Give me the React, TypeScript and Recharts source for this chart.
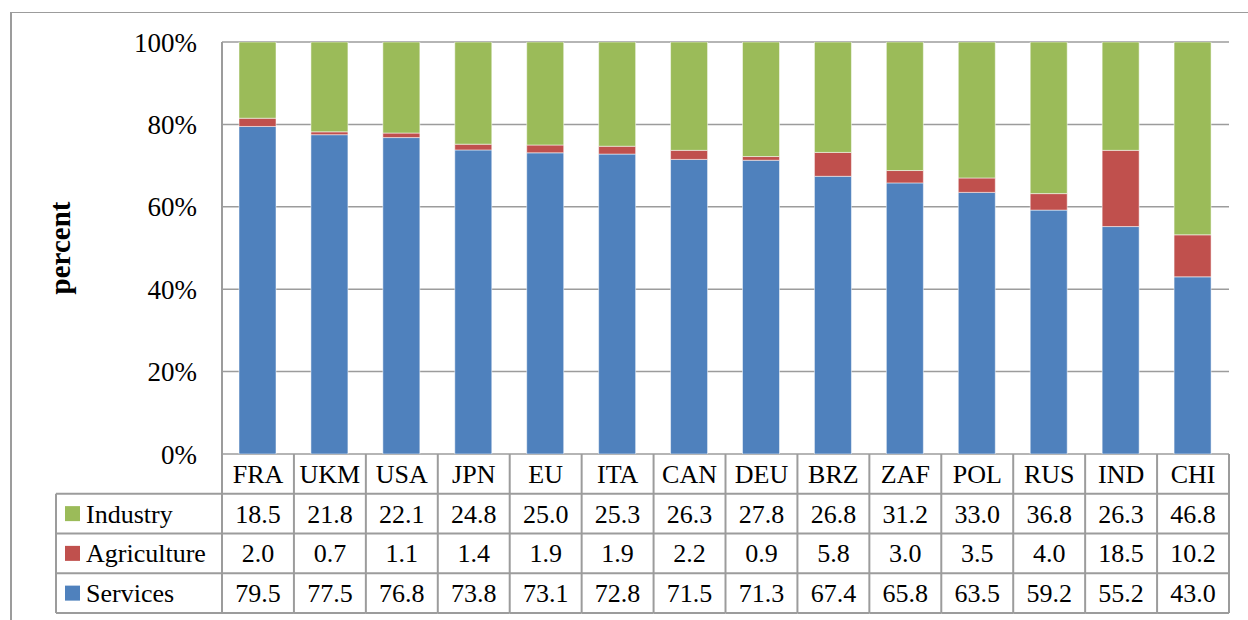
import { BarChart, Bar, XAxis, YAxis, CartesianGrid } from 'recharts'

const categories = ['FRA', 'UKM', 'USA', 'JPN', 'EU', 'ITA', 'CAN', 'DEU', 'BRZ', 'ZAF', 'POL', 'RUS', 'IND', 'CHI']
const industry = [18.5, 21.8, 22.1, 24.8, 25.0, 25.3, 26.3, 27.8, 26.8, 31.2, 33.0, 36.8, 26.3, 46.8]
const agriculture = [2.0, 0.7, 1.1, 1.4, 1.9, 1.9, 2.2, 0.9, 5.8, 3.0, 3.5, 4.0, 18.5, 10.2]
const services = [79.5, 77.5, 76.8, 73.8, 73.1, 72.8, 71.5, 71.3, 67.4, 65.8, 63.5, 59.2, 55.2, 43.0]
const yTicks = [0, 20, 40, 60, 80, 100]

// table rows, top to bottom (stack order is the reverse)
const rows = [
  { key: 'industry', name: 'Industry', color: '#9BBB59', values: industry },
  { key: 'agriculture', name: 'Agriculture', color: '#C0504D', values: agriculture },
  { key: 'services', name: 'Services', color: '#4F81BD', values: services },
]

const data = categories.map((country, i) => ({
  country,
  services: services[i],
  agriculture: agriculture[i],
  industry: industry[i],
}))

const W = 1248
const H = 620
const PLOT_LEFT = 222
const PLOT_RIGHT = 1229
const PLOT_TOP = 42
const PLOT_BOTTOM = 454
const BAND = (PLOT_RIGHT - PLOT_LEFT) / categories.length
const HEADER_H = 39.75
const ROW_H = 39.75
const LEGEND_LEFT = 56
const SERIF = 'Liberation Serif'
const LINE = '#9c9c9c'

function Cell({ x, y, anchor, children }: any) {
  return (
    <text x={x} y={y} textAnchor={anchor} fontFamily={SERIF} fontSize={26} fill="#000" stroke="none">
      {children}
    </text>
  )
}

function TableTick(props: any) {
  const { x, y, payload, index } = props
  const i = index ?? payload.index ?? categories.indexOf(payload.value)
  const left = x - BAND / 2
  const right = x + BAND / 2
  const bottom = y + HEADER_H + ROW_H * rows.length
  const isLast = i === categories.length - 1
  return (
    <g>
      <Cell x={x} y={y + HEADER_H / 2 + 9} anchor="middle">{payload.value}</Cell>
      {rows.map((r, k) => (
        <Cell key={r.key} x={x} y={y + HEADER_H + ROW_H * k + ROW_H / 2 + 9} anchor="middle">
          {r.values[i].toFixed(1)}
        </Cell>
      ))}
      <line x1={left} x2={left} y1={y} y2={bottom} stroke={LINE} strokeWidth={2} />
      {isLast && <line x1={right} x2={right} y1={y} y2={bottom} stroke={LINE} strokeWidth={2} />}
      {[0, 1, 2, 3].map((k) => (
        <line
          key={k}
          x1={left}
          x2={right}
          y1={y + HEADER_H + ROW_H * k}
          y2={y + HEADER_H + ROW_H * k}
          stroke={LINE}
          strokeWidth={2}
        />
      ))}
      {i === 0 && (
        <g>
          <line x1={LEGEND_LEFT} x2={LEGEND_LEFT} y1={y + HEADER_H} y2={bottom} stroke={LINE} strokeWidth={2} />
          {[0, 1, 2, 3].map((k) => (
            <line
              key={k}
              x1={LEGEND_LEFT}
              x2={left}
              y1={y + HEADER_H + ROW_H * k}
              y2={y + HEADER_H + ROW_H * k}
              stroke={LINE}
              strokeWidth={2}
            />
          ))}
          {rows.map((r, k) => {
            const cy = y + HEADER_H + ROW_H * k + ROW_H / 2
            return (
              <g key={r.key}>
                <rect x={65} y={cy - 7.5} width={15} height={15} fill={r.color} />
                <Cell x={86} y={cy + 9} anchor="start">{r.name}</Cell>
              </g>
            )
          })}
        </g>
      )}
    </g>
  )
}

export default function App() {
  return (
    <div style={{ position: 'absolute', left: 0, top: 0, width: W, height: H, overflow: 'hidden', background: '#fff', fontFamily: SERIF }}>
      <div
        style={{
          position: 'absolute',
          left: 10,
          top: 12,
          width: 1400,
          height: 800,
          borderLeft: `2px solid ${LINE}`,
          borderTop: `1.5px solid ${LINE}`,
        }}
      />
      <div style={{ position: 'absolute', left: 0, top: 0 }}>
        <BarChart
          width={W}
          height={H}
          data={data}
          margin={{ top: PLOT_TOP, right: W - PLOT_RIGHT, bottom: 0, left: 0 }}
          barSize={37}
          style={{ fontFamily: SERIF }}
        >
          <CartesianGrid horizontal vertical={false} stroke={LINE} strokeWidth={1.5} />
          <XAxis
            dataKey="country"
            height={H - PLOT_BOTTOM}
            axisLine={false}
            tickLine={false}
            tickSize={0}
            tickMargin={0}
            interval={0}
            tick={(p: any) => <TableTick {...p} />}
          />
          <YAxis
            width={PLOT_LEFT}
            domain={[0, 100]}
            ticks={yTicks}
            allowDataOverflow
            tickFormatter={(v: number) => `${v}%`}
            axisLine={{ stroke: LINE, strokeWidth: 2 }}
            tickLine={false}
            tickSize={0}
            tickMargin={25}
            tick={{ fill: '#000', fontSize: 27, fontFamily: SERIF }}
            label={{
              content: ({ viewBox }: any) => {
                const cy = viewBox.y + viewBox.height / 2
                return (
                  <text
                    x={70}
                    y={cy}
                    transform={`rotate(-90, 70, ${cy})`}
                    textAnchor="middle"
                    fontFamily={SERIF}
                    fontWeight="bold"
                    fontSize={29}
                    fill="#000"
                  >
                    percent
                  </text>
                )
              },
            }}
          />
          <Bar dataKey="services" stackId="a" fill="#4F81BD" stroke="#ffffff" strokeOpacity={0.5} isAnimationActive={false} />
          <Bar dataKey="agriculture" stackId="a" fill="#C0504D" stroke="#ffffff" strokeOpacity={0.5} isAnimationActive={false} />
          <Bar dataKey="industry" stackId="a" fill="#9BBB59" stroke="#ffffff" strokeOpacity={0.5} isAnimationActive={false} />
        </BarChart>
      </div>
    </div>
  )
}
